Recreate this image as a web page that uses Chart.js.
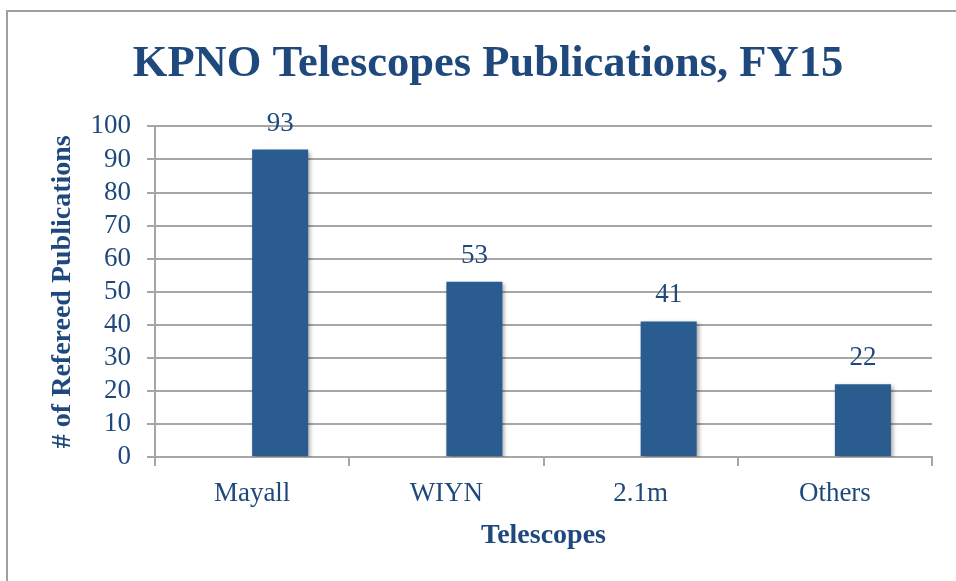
<!DOCTYPE html>
<html>
<head>
<meta charset="utf-8">
<script src="https://cdn.jsdelivr.net/npm/chart.js@4.4.1/dist/chart.umd.min.js"></script>
<style>
  html, body { margin:0; padding:0; background:#fff; }
  #wrap { width:956px; height:581px; position:relative; }
</style>
</head>
<body>
<div id="wrap"><canvas id="bars"></canvas></div>
<script>
const telescopes = ['Mayall', 'WIYN', '2.1m', 'Others'];
const publications = [93, 53, 41, 22];
const spacer = [null, null, null, null]; // empty series, bars sit right of centre like the original
const yTicks = [0, 10, 20, 30, 40, 50, 60, 70, 80, 90, 100];

const TXT = '#1f497d';
const BAR = '#2a5c8f';
const GRID = '#a6a6a6';
const SERIF = '"Liberation Serif", "Times New Roman", serif';

// outer frame, only top and left edges are visible in the picture
const framePlugin = {
  id: 'frame',
  beforeDraw(chart){
    const c = chart.ctx;
    c.save();
    c.strokeStyle = '#a0a0a0'; c.lineWidth = 2;
    c.strokeRect(7, 11, 2000, 2000);
    c.restore();
  }
};

const shadowPlugin = {
  id: 'barShadow',
  beforeDatasetsDraw(chart){
    const c = chart.ctx;
    c.save();
    c.shadowColor = 'rgba(0,0,0,0.35)';
    c.shadowBlur = 4; c.shadowOffsetX = 2; c.shadowOffsetY = 2;
  },
  afterDatasetsDraw(chart){
    chart.ctx.restore();
  }
};

const valuePlugin = {
  id: 'values',
  afterDatasetsDraw(chart){
    const c = chart.ctx;
    const meta = chart.getDatasetMeta(1);
    c.save();
    c.fillStyle = TXT;
    c.font = '27px ' + SERIF;
    c.textAlign = 'center'; c.textBaseline = 'alphabetic';
    meta.data.forEach((bar, i) => {
      c.fillText(String(publications[i]), bar.x, bar.y - 19);
    });
    c.restore();
  }
};

new Chart(document.getElementById('bars'), {
  type: 'bar',
  data: {
    labels: telescopes,
    datasets: [
      { label: '', data: spacer, backgroundColor: BAR },
      { label: 'Publications', data: publications, backgroundColor: BAR, borderWidth: 0 }
    ]
  },
  options: {
    responsive: true,
    maintainAspectRatio: false,
    animation: false,
    devicePixelRatio: 1,
    categoryPercentage: 0.577,
    barPercentage: 1.0,
    layout: { padding: { left: 44, right: 24, top: 0, bottom: 0 } },
    plugins: {
      legend: { display: false },
      tooltip: { enabled: false },
      title: {
        display: true,
        text: 'KPNO Telescopes Publications, FY15',
        color: TXT,
        font: { family: SERIF, size: 44.5, weight: 'bold' },
        padding: { top: 38, bottom: 35 }
      }
    },
    scales: {
      x: {
        grid: { display: true, drawOnChartArea: false, drawTicks: true, tickLength: 9, color: GRID, lineWidth: 2, offset: true },
        border: { display: true, color: GRID, width: 2 },
        ticks: { color: TXT, font: { family: SERIF, size: 27 }, padding: 12 },
        title: {
          display: true, text: 'Telescopes', color: TXT,
          font: { family: SERIF, size: 28, weight: 'bold' },
          padding: { top: 0, bottom: 28 }
        },
        afterFit(scale){ scale.height = 124; }
      },
      y: {
        min: 0, max: 100,
        afterBuildTicks(scale){ scale.ticks = yTicks.map(v => ({ value: v })); },
        grid: { color: GRID, lineWidth: 2, tickLength: 8 },
        border: { display: true, color: GRID, width: 2 },
        ticks: { color: TXT, font: { family: SERIF, size: 27 }, padding: 16, autoSkip: false },
        title: {
          display: true, text: '# of Refereed Publications', color: TXT,
          font: { family: SERIF, size: 28, weight: 'bold' },
          padding: { top: 2, bottom: 0 }
        },
        afterFit(scale){ scale.width = 111; }
      }
    }
  },
  plugins: [framePlugin, shadowPlugin, valuePlugin]
});
</script>
</body>
</html>
